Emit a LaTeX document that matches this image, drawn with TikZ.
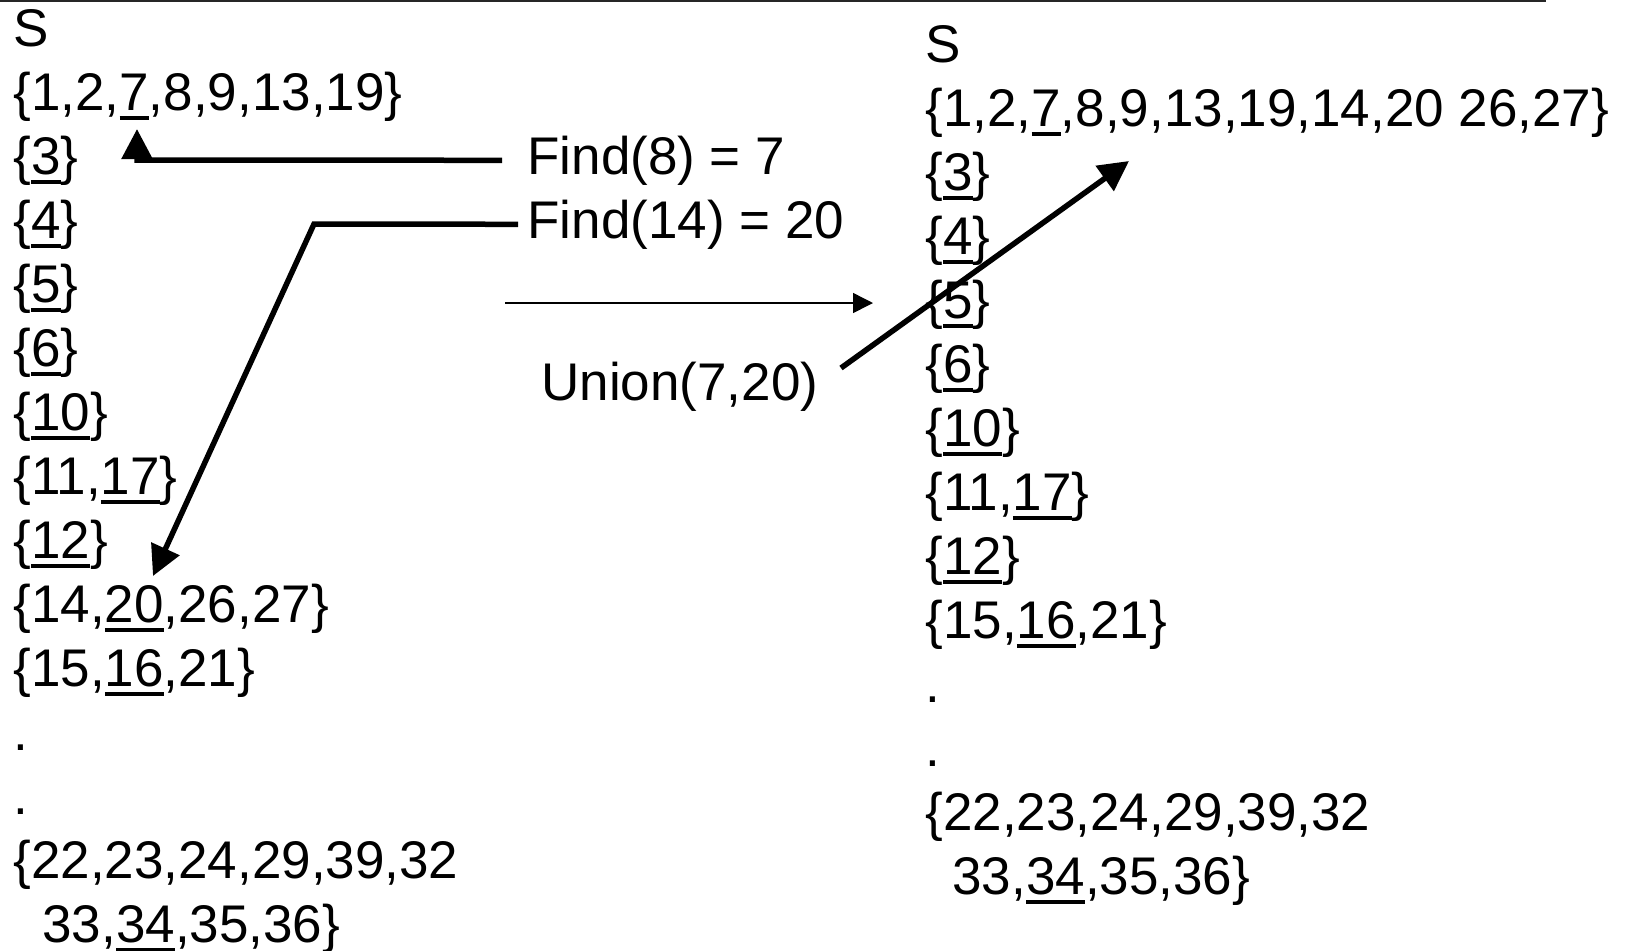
\documentclass[tikz,border=0pt]{standalone}
\usepackage{fontspec}
\setmainfont{Liberation Sans}
\usetikzlibrary{arrows.meta}
\newcommand\uln[1]{\setbox0=\hbox{#1}\rlap{\rule[-4.75pt]{\wd0}{1.75pt}}\box0}
\tikzset{
  txt/.style={anchor=base west, inner sep=0pt, font=\fontsize{26.5pt}{32pt}\selectfont},
  thickarrow/.style={line width=2.75pt, -{Triangle[length=15pt,width=15pt]}},
  thinarrow/.style={line width=0.75pt, -{Triangle[length=10pt,width=10pt]}},
  topline/.style={line width=1.1pt, black!85}
}
\begin{document}
\begin{tikzpicture}[x=0.5pt,y=-0.5pt]
\useasboundingbox (0,0) rectangle (1630,950);
\fill[white] (0,0) rectangle (1630,950);
\draw[topline] (0,1) -- (1546,1);
% left column
\node[txt] (l0) at (13,46) {S};
\node[txt] (l1) at (13,110) {\{1,2,\uln{7},8,9,13,19\}};
\node[txt] (l2) at (13,174) {\{\uln{3}\}};
\node[txt] (l3) at (13,238) {\{\uln{4}\}};
\node[txt] (l4) at (13,302) {\{\uln{5}\}};
\node[txt] (l5) at (13,366) {\{\uln{6}\}};
\node[txt] (l6) at (13,430) {\{\uln{10}\}};
\node[txt] (l7) at (13,494) {\{11,\uln{17}\}};
\node[txt] (l8) at (13,558) {\{\uln{12}\}};
\node[txt] (l9) at (13,622) {\{14,\uln{20},26,27\}};
\node[txt] (l10) at (13,686) {\{15,\uln{16},21\}};
\node[txt] (l11) at (13,750) {.};
\node[txt] (l12) at (13,814) {.};
\node[txt] (l13) at (13,878) {\{22,23,24,29,39,32};
\node[txt] (l14) at (42,942) {33,\uln{34},35,36\}};
% right column
\node[txt] (r0) at (925,62) {S};
\node[txt] (r1) at (925,126) {\{1,2,\uln{7},8,9,13,19,14,20 26,27\}};
\node[txt] (r2) at (925,190) {\{\uln{3}\}};
\node[txt] (r3) at (925,254) {\{\uln{4}\}};
\node[txt] (r4) at (925,318) {\{\uln{5}\}};
\node[txt] (r5) at (925,382) {\{\uln{6}\}};
\node[txt] (r6) at (925,446) {\{\uln{10}\}};
\node[txt] (r7) at (925,510) {\{11,\uln{17}\}};
\node[txt] (r8) at (925,574) {\{\uln{12}\}};
\node[txt] (r9) at (925,638) {\{15,\uln{16},21\}};
\node[txt] (r10) at (925,702) {.};
\node[txt] (r11) at (925,766) {.};
\node[txt] (r12) at (925,830) {\{22,23,24,29,39,32};
\node[txt] (r13) at (952,894) {33,\uln{34},35,36\}};
% labels
\node[txt] (f8) at (527,174) {Find(8) = 7};
\node[txt] (f14) at (527,238) {Find(14) = 20};
\node[txt] (un) at (541,400) {Union(7,20)};
% connector points
\coordinate (c1) at (137,160);
\coordinate (t1) at (137,129);
\coordinate (c2) at (314,224);
\coordinate (t2) at (153,576);
\coordinate (s3) at (841,368);
\coordinate (t3) at (1129,161);
\coordinate (s4) at (505,303);
\coordinate (t4) at (873,303);
% connectors
\draw[thickarrow] ([xshift=-12.5pt]f8.west) -- (c1) -- (t1);
\draw[thickarrow] ([xshift=-4.5pt]f14.west) -- (c2) -- (t2);
\draw[thickarrow] (s3) -- (t3);
\draw[thinarrow] (s4) -- (t4);
\end{tikzpicture}
\end{document}
